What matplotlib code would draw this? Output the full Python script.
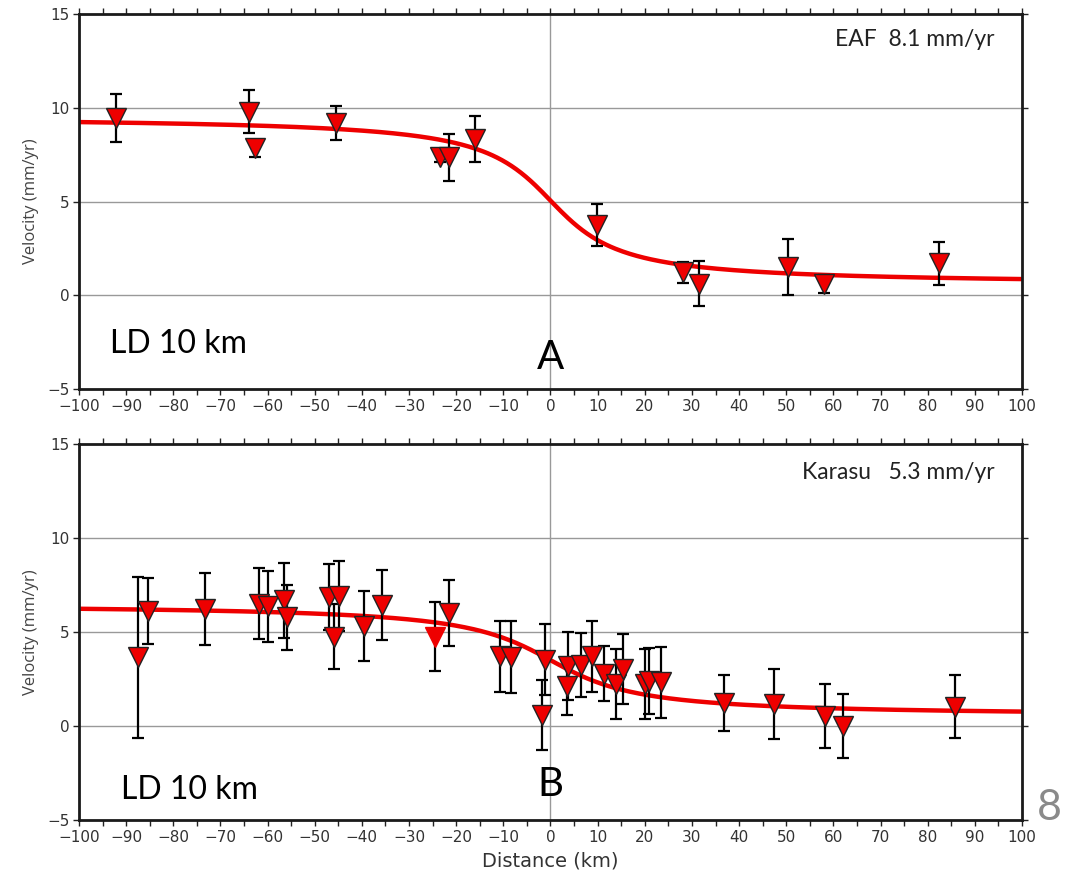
import numpy as np
import matplotlib.pyplot as plt
from matplotlib.ticker import MultipleLocator

# East Anatolian Fault profile (distance km, velocity mm/yr, 1-sigma)
eaf_dist = [-92.1, -64.0, -62.6, -45.5, -23.5, -21.6, -16.1, 9.8, 28.0, 31.4, 50.3, 58.0, 82.5]
eaf_vel = [9.45, 9.8, 7.85, 9.2, 7.38, 7.35, 8.33, 3.75, 1.22, 0.62, 1.5, 0.6, 1.7]
eaf_err = [1.27, 1.15, 0.45, 0.9, 0.25, 1.23, 1.22, 1.1, 0.58, 1.2, 1.5, 0.5, 1.15]

# Karasu profile
kar_dist = [-87.5, -85.4, -73.3, -61.9, -60.0, -56.6, -55.9, -46.9, -46.0, -44.9,
            -39.5, -35.7, -24.5, -21.6, -10.8, -8.4, -1.8, -1.1, 3.5, 3.7,
            6.5, 8.8, 11.3, 13.9, 15.4, 20.1, 21.0, 23.5, 36.7, 47.5,
            58.3, 62.1, 85.9]
kar_vel = [3.65, 6.12, 6.22, 6.5, 6.37, 6.68, 5.77, 6.85, 4.75, 6.92,
           5.32, 6.42, 4.75, 6.03, 3.7, 3.68, 0.58, 3.52, 2.1, 3.2,
           3.26, 3.7, 2.78, 2.25, 3.03, 2.23, 2.4, 2.33, 1.22, 1.18,
           0.55, -0.01, 1.03]
kar_err = [4.3, 1.76, 1.9, 1.9, 1.88, 2.0, 1.73, 1.75, 1.73, 1.85,
           1.88, 1.87, 1.85, 1.76, 1.87, 1.91, 1.87, 1.88, 1.52, 1.8,
           1.7, 1.87, 1.46, 1.87, 1.88, 1.85, 1.74, 1.88, 1.5, 1.85,
           1.7, 1.7, 1.68]
kar_outline = [True] * len(kar_dist)
kar_outline[12] = False

# screw-dislocation fit: v = offset - slip/pi * atan(x / depth)
eaf_fit = dict(offset=5.05, slip=9.0, depth=11.0)
kar_fit = dict(offset=3.5, slip=6.0, depth=14.0)

tick_font = ['Liberation Sans Narrow', 'DejaVu Sans']
label_font = ['Open Sans', 'DejaVu Sans']
text_font = ['Lato', 'DejaVu Sans']


def model(x, offset, slip, depth):
    return offset - slip / np.pi * np.arctan(x / depth)


def style_axis(ax):
    ax.set_xlim(-100, 100)
    ax.set_ylim(-5, 15)
    ax.xaxis.set_major_locator(MultipleLocator(10))
    ax.xaxis.set_minor_locator(MultipleLocator(5))
    ax.yaxis.set_major_locator(MultipleLocator(5))
    ax.tick_params(which='both', direction='out', top=True, right=True,
                   length=4, width=1, colors='#222222', labelcolor='#333333',
                   labelsize=11, pad=3)
    for lab in ax.get_xticklabels() + ax.get_yticklabels():
        lab.set_family(tick_font)
    for sp in ax.spines.values():
        sp.set_linewidth(2)
        sp.set_color('#1a1a1a')
    for y in (0, 5, 10):
        ax.axhline(y, color='#999999', lw=1, zorder=0)
    ax.axvline(0, color='#999999', lw=1, zorder=0)
    ax.set_ylabel('Velocity (mm/yr)', family=label_font, fontsize=12,
                  color='#444444', labelpad=6)


def draw_profile(ax, dist, vel, err, fit, outline=None):
    xs = np.linspace(-100, 100, 400)
    ax.plot(xs, model(xs, **fit), color='#ee0000', lw=3.2, zorder=2)
    ax.errorbar(dist, vel, yerr=err, fmt='none', ecolor='black', elinewidth=1.6,
                capsize=4, capthick=1.6, zorder=3)
    if outline is None:
        outline = [True] * len(dist)
    for x, v, o in zip(dist, vel, outline):
        ax.plot(x, v, marker='v', ms=14, color='#ee0000',
                mec='#222222' if o else '#ee0000', mew=1.0, zorder=4)


fig = plt.figure(figsize=(10.66, 8.75), dpi=100)
ax1 = fig.add_axes([0.0741, 0.5554, 0.8846, 0.4286])
ax2 = fig.add_axes([0.0741, 0.0629, 0.8846, 0.4297])

draw_profile(ax1, eaf_dist, eaf_vel, eaf_err, eaf_fit)
draw_profile(ax2, kar_dist, kar_vel, kar_err, kar_fit, kar_outline)
style_axis(ax1)
style_axis(ax2)
ax2.set_xlabel('Distance (km)', family=tick_font, fontsize=14,
               color='#333333', labelpad=5)

ax1.text(0.971, 0.933, 'EAF  8.1 mm/yr', transform=ax1.transAxes, ha='right',
         va='center', fontsize=16.5, family=text_font, color='#222222')
ax2.text(0.971, 0.923, 'Karasu   5.3 mm/yr', transform=ax2.transAxes, ha='right',
         va='center', fontsize=16.5, family=text_font, color='#222222')

ax1.text(-79, -2.6, 'LD 10 km', ha='center', va='center', fontsize=23,
         family=text_font, color='black')
ax1.text(0, -3.3, 'A', ha='center', va='center', fontsize=29,
         family=text_font, color='black')
ax2.text(-76.5, -3.4, 'LD 10 km', ha='center', va='center', fontsize=23,
         family=text_font, color='black')
ax2.text(0, -3.1, 'B', ha='center', va='center', fontsize=29,
         family=text_font, color='black')

fig.text(0.984, 0.076, '8', ha='center', va='center', fontsize=31,
         family=text_font, color='#8a8a8a')

fig.savefig('out.png', dpi=100)
